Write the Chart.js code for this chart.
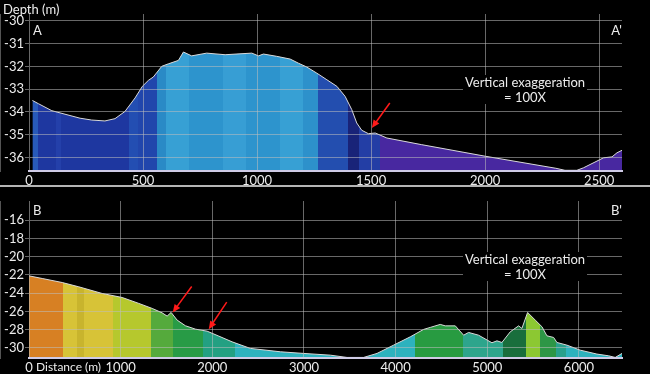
<!DOCTYPE html>
<html lang="en">
<head>
<meta charset="UTF-8">
<title>Depth profiles A-A' and B-B'</title>
<script src="https://cdn.jsdelivr.net/npm/chart.js@4.4.0/dist/chart.umd.min.js"></script>
<style>
  html, body { margin: 0; padding: 0; background: #000; }
  #wrap { position: relative; width: 650px; height: 374px; overflow: hidden; background: #000; }
  .panel { position: absolute; left: 0; width: 650px; }
  #top { top: 0; height: 185px; }
  #sep { position: absolute; left: 0; top: 185px; width: 650px; height: 2px; background: #b4b4b4; }
  #bottom { top: 187px; height: 187px; }
</style>
</head>
<body>
<div id="wrap">
  <div class="panel" id="top"><canvas id="profileA"></canvas></div>
  <div id="sep"></div>
  <div class="panel" id="bottom"><canvas id="profileB"></canvas></div>
</div>
<script>
// Profile A - A' (distance in m, depth in m)
const distA = [15, 41, 100, 224, 275, 333, 377, 421, 465, 497, 523, 545, 582, 611, 655, 677, 713, 779, 860,
  925, 977, 1006, 1028, 1086, 1145, 1181, 1218, 1262, 1306, 1350, 1386, 1415, 1437, 1459, 1488, 1518,
  1569, 1720, 2000, 2310, 2350, 2402, 2431, 2519, 2556, 2578, 2600];
const depthA = [-33.5, -33.64, -33.95, -34.28, -34.36, -34.4, -34.3, -33.98, -33.39, -32.88, -32.62, -32.47,
  -32.0, -31.89, -31.74, -31.37, -31.54, -31.42, -31.49, -31.45, -31.42, -31.54, -31.46, -31.56, -31.68,
  -31.86, -32.03, -32.3, -32.59, -32.88, -33.32, -33.9, -34.49, -34.81, -34.96, -34.93, -35.15, -35.44,
  -35.95, -36.48, -36.57, -36.57, -36.46, -36.02, -35.98, -35.8, -35.69];
const xTicksA = [0, 500, 1000, 1500, 2000, 2500];
const yTicksA = [-30, -31, -32, -33, -34, -35, -36];

// Profile B - B'
const distB = [0, 144, 362, 543, 798, 1016, 1198, 1344, 1452, 1507, 1551, 1616, 1707, 1816, 1943, 2070,
  2216, 2415, 2743, 2997, 3288, 3470, 3651, 3797, 3978, 4160, 4305, 4378, 4487, 4542, 4651, 4742, 4796,
  4905, 5051, 5106, 5160, 5251, 5342, 5378, 5440, 5524, 5597, 5651, 5724, 5760, 5869, 6014, 6196, 6324,
  6396, 6470];
const depthB = [-22.1, -22.39, -22.83, -23.3, -24.03, -24.47, -25.12, -25.67, -26.15, -26.51, -26.11,
  -26.95, -27.57, -27.94, -28.16, -28.7, -29.33, -30.05, -30.42, -30.6, -30.79, -31.04, -31.04, -30.6,
  -29.69, -28.78, -27.97, -27.75, -27.42, -27.58, -27.58, -28.6, -28.3, -28.6, -29.43, -29.22, -29.4,
  -28.23, -27.58, -27.86, -26.11, -26.95, -27.68, -28.67, -28.85, -29.4, -29.69, -30.24, -30.67, -30.86,
  -31.04, -30.6];
const xTicksB = [0, 1000, 2000, 3000, 4000, 5000, 6000];
const yTicksB = [-16, -18, -20, -22, -24, -26, -28, -30];

// colour bands along distance (style only)
const bandsA = [
  [0, 40, 'rgb(40,90,185)'], [40, 120, 'rgb(30,55,160)'], [120, 140, 'rgb(36,64,170)'],
  [140, 440, 'rgb(30,55,160)'], [440, 480, 'rgb(35,78,178)'], [480, 560, 'rgb(33,70,172)'],
  [560, 600, 'rgb(42,138,198)'], [600, 700, 'rgb(55,160,212)'], [700, 850, 'rgb(45,148,205)'],
  [850, 950, 'rgb(55,158,212)'], [950, 1100, 'rgb(45,148,205)'], [1100, 1200, 'rgb(55,160,212)'],
  [1200, 1265, 'rgb(45,145,203)'], [1265, 1400, 'rgb(35,78,175)'], [1400, 1445, 'rgb(25,35,120)'],
  [1445, 1540, 'rgb(35,62,165)'], [1540, 2600, 'rgb(72,40,160)']
];
const bandsB = [
  [0, 375, 'rgb(215,128,35)'], [375, 520, 'rgb(215,195,55)'], [520, 600, 'rgb(200,180,45)'],
  [600, 920, 'rgb(215,195,55)'], [920, 1330, 'rgb(182,200,45)'], [1330, 1570, 'rgb(85,170,60)'],
  [1570, 1900, 'rgb(40,155,70)'], [1900, 2250, 'rgb(35,160,130)'], [2250, 4215, 'rgb(45,178,190)'],
  [4215, 4740, 'rgb(40,155,65)'], [4740, 5170, 'rgb(45,165,140)'], [5170, 5425, 'rgb(25,110,60)'],
  [5425, 5570, 'rgb(140,200,50)'], [5570, 5750, 'rgb(45,150,70)'], [5750, 5860, 'rgb(40,160,140)'],
  [5860, 6470, 'rgb(45,178,190)']
];

Chart.defaults.font.family = "Lato, 'Open Sans', sans-serif";
Chart.defaults.font.size = 13;
Chart.defaults.color = '#ececec';

const gridColor = 'rgba(190,190,190,0.55)';
const textColor = '#ececec';

function bandGradient(chart, bands) {
  const xs = chart.scales.x;
  const x0 = xs.left, x1 = xs.right;
  const g = chart.ctx.createLinearGradient(x0, 0, x1, 0);
  bands.forEach(b => {
    const p0 = Math.min(1, Math.max(0, (xs.getPixelForValue(b[0]) - x0) / (x1 - x0)));
    const p1 = Math.min(1, Math.max(0, (xs.getPixelForValue(b[1]) - x0) / (x1 - x0)));
    g.addColorStop(p0, b[2]);
    g.addColorStop(p1, b[2]);
  });
  return g;
}

function drawArrow(ctx, hx, hy, dx, dy) {
  const tx = hx + dx, ty = hy + dy;
  const ang = Math.atan2(hy - ty, hx - tx);
  ctx.save();
  ctx.strokeStyle = '#ff1a1a';
  ctx.fillStyle = '#ff1a1a';
  ctx.lineWidth = 1.5;
  ctx.beginPath();
  ctx.moveTo(tx, ty);
  ctx.lineTo(hx - 5 * Math.cos(ang), hy - 5 * Math.sin(ang));
  ctx.stroke();
  ctx.beginPath();
  ctx.moveTo(hx, hy);
  ctx.lineTo(hx - 8 * Math.cos(ang) + 3.5 * Math.sin(ang), hy - 8 * Math.sin(ang) - 3.5 * Math.cos(ang));
  ctx.lineTo(hx - 8 * Math.cos(ang) - 3.5 * Math.sin(ang), hy - 8 * Math.sin(ang) + 3.5 * Math.cos(ang));
  ctx.closePath();
  ctx.fill();
  ctx.restore();
}

// labels, exaggeration note and arrows drawn on top
const overlay = {
  id: 'overlay',
  afterDraw(chart, args, o) {
    const ctx = chart.ctx;
    const xs = chart.scales.x, ys = chart.scales.y;
    ctx.save();
    ctx.fillStyle = textColor;
    ctx.font = "13px Lato, 'Open Sans', sans-serif";
    ctx.textBaseline = 'middle';
    ctx.textAlign = 'left';
    ctx.fillText(o.left, 33, o.cornerY);
    ctx.textAlign = 'right';
    ctx.fillText(o.right, 622, o.cornerY);
    if (o.axisTitle) {
      ctx.textAlign = 'left';
      ctx.font = o.titleFont;
      ctx.fillText(o.axisTitle, o.axisTitleX, o.axisTitleY);
      ctx.font = "13px Lato, 'Open Sans', sans-serif";
    }
    // note box
    ctx.fillStyle = '#000';
    ctx.fillRect(463, o.noteY - 8, 124, 29);
    ctx.fillStyle = textColor;
    ctx.textAlign = 'center';
    ctx.fillText('Vertical exaggeration', 525, o.noteY);
    ctx.fillText('= 100X', 525, o.noteY + 15);
    ctx.restore();
    o.arrows.forEach(a => {
      drawArrow(ctx, xs.getPixelForValue(a[0]), ys.getPixelForValue(a[1]), a[2], a[3]);
    });
  }
};

function makeProfile(id, dist, depth, bands, xMax, yMin, yMax, xTicks, yTicks, xAxisH, overlayOpts) {
  return new Chart(document.getElementById(id), {
    type: 'line',
    data: {
      datasets: [{
        data: dist.map((d, i) => ({ x: d, y: depth[i] })),
        borderColor: '#d9d9d9',
        borderWidth: 1,
        pointRadius: 0,
        tension: 0,
        fill: 'start',
        backgroundColor: (c) => {
          const chart = c.chart;
          if (!chart.chartArea) return null;
          return bandGradient(chart, bands);
        }
      }]
    },
    options: {
      responsive: true,
      maintainAspectRatio: false,
      animation: false,
      layout: { padding: { top: 14, right: 28, left: 0, bottom: 0 } },
      plugins: { legend: { display: false }, tooltip: { enabled: false }, overlay: overlayOpts },
      scales: {
        x: {
          type: 'linear', min: 0, max: xMax,
          afterFit: s => { s.height = xAxisH; },
          afterBuildTicks: s => { s.ticks = xTicks.map(v => ({ value: v })); },
          grid: { color: gridColor, z: 1, drawTicks: false },
          border: { display: true, color: '#cfcbe6', width: 2, z: 1 },
          ticks: { color: textColor, padding: 2, maxRotation: 0, autoSkip: false, callback: v => String(v) }
        },
        y: {
          type: 'linear', min: yMin, max: yMax,
          afterFit: s => { s.width = 29; },
          afterBuildTicks: s => { s.ticks = yTicks.map(v => ({ value: v })); },
          grid: { color: gridColor, z: 1, tickLength: 4 },
          border: { display: true, color: '#a8a8a8', width: 1 },
          ticks: { color: textColor, padding: 1, autoSkip: false, callback: v => String(v) }
        }
      }
    },
    plugins: [overlay]
  });
}

makeProfile('profileA', distA, depthA, bandsA, 2600, -36.6, -29.7, xTicksA, yTicksA, 14, {
  left: 'A', right: "A'", cornerY: 31, axisTitle: 'Depth (m)', axisTitleX: 3, axisTitleY: 10,
  titleFont: "13px Lato, 'Open Sans', sans-serif", noteY: 83,
  arrows: [[1503, -34.71, 18, -25]]
});

makeProfile('profileB', distB, depthB, bandsB, 6470, -31.1, -13.9, xTicksB, yTicksB, 16, {
  left: 'B', right: "B'", cornerY: 24, axisTitle: 'Distance (m)', axisTitleX: 36, axisTitleY: 180,
  titleFont: "12px Lato, 'Open Sans', sans-serif", noteY: 73,
  arrows: [[1568, -26.11, 19, -26], [1961, -27.94, 18, -27]]
});
</script>
</body>
</html>
